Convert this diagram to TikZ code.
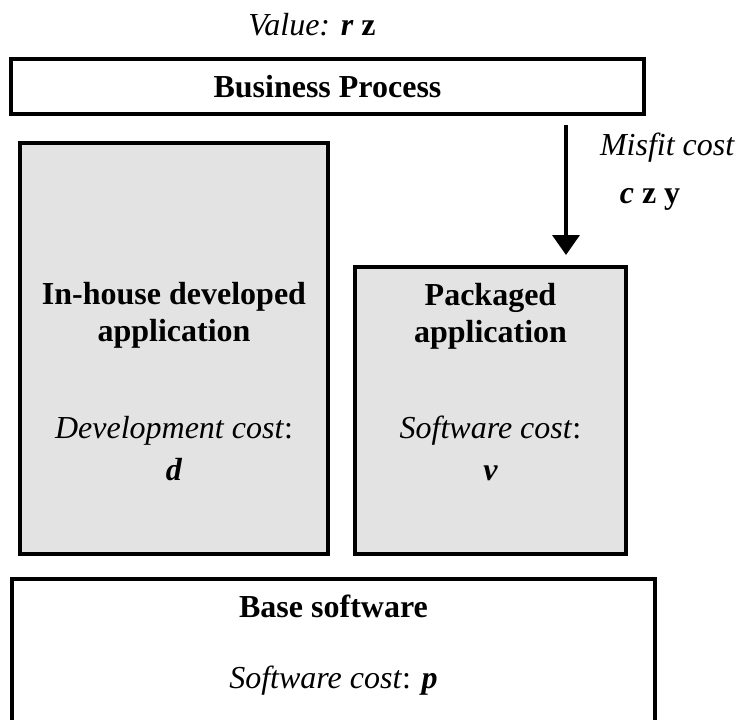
\documentclass[tikz,border=0pt]{standalone}
\usepackage{fontspec}
\setmainfont{Liberation Serif}
\usetikzlibrary{arrows.meta}

\tikzset{
  layerbox/.style={draw=black, line width=3.8pt, rectangle, inner sep=0pt, outer sep=0pt},
  appbox/.style={layerbox, fill=black!11},
  plainbox/.style={layerbox, fill=white},
  lbl/.style={inner sep=0pt, outer sep=0pt, anchor=base, font=\fontsize{32}{37}\selectfont},
  flowarrow/.style={line width=3.6pt, -{Triangle[width=27pt,length=20pt]}},
}

\newcommand{\bi}[1]{\textbf{\textit{#1}}}

\begin{document}
\begin{tikzpicture}[x=1pt, y=-1pt]
  \useasboundingbox (0,0) rectangle (739,720);
  \clip (0,0) rectangle (739,720);

  % layer boxes
  \node[plainbox, minimum width=633pt, minimum height=55pt] (bp) at (327.5,86.5) {};
  \node[appbox, minimum width=308pt, minimum height=411pt] (inh) at (174,348.5) {};
  \node[appbox, minimum width=271pt, minimum height=287pt] (pkg) at (490.5,410.5) {};
  \node[plainbox, minimum width=643pt, minimum height=143pt] (base) at (333.5,650.5) {};

  % value of the business process
  \node[lbl] (val) at (312,35) {\textit{Value:} \bi{r} \textbf{z}};
  \node[lbl] (bptxt) at (327.5,97) {\textbf{Business Process}};

  % misfit between process and package
  \coordinate (atop) at (566,125);
  \draw[flowarrow, shorten >=12pt] (atop) -- (atop |- pkg.north);
  \node[lbl, anchor=base west] (mis) at (600,155) {\textit{Misfit cost}};
  \node[lbl] (czy) at (650,203) {\bi{c} \textbf{z y}};

  % in-house application
  \node[lbl] (inh1) at (174,304) {\textbf{In-house developed}};
  \node[lbl] (inh2) at (174,341) {\textbf{application}};
  \node[lbl] (inh3) at (174,438) {\textit{Development cost}:};
  \node[lbl] (inh4) at (174,480) {\bi{d}};

  % packaged application
  \node[lbl] (pkg1) at (490.5,305) {\textbf{Packaged}};
  \node[lbl] (pkg2) at (490.5,342) {\textbf{application}};
  \node[lbl] (pkg3) at (490.5,438) {\textit{Software cost}:};
  \node[lbl] (pkg4) at (490.5,480) {\bi{v}};

  % base software
  \node[lbl] (bs1) at (333.5,617) {\textbf{Base software}};
  \node[lbl] (bs2) at (333.5,688) {\textit{Software cost}: \bi{p}};
\end{tikzpicture}
\end{document}
